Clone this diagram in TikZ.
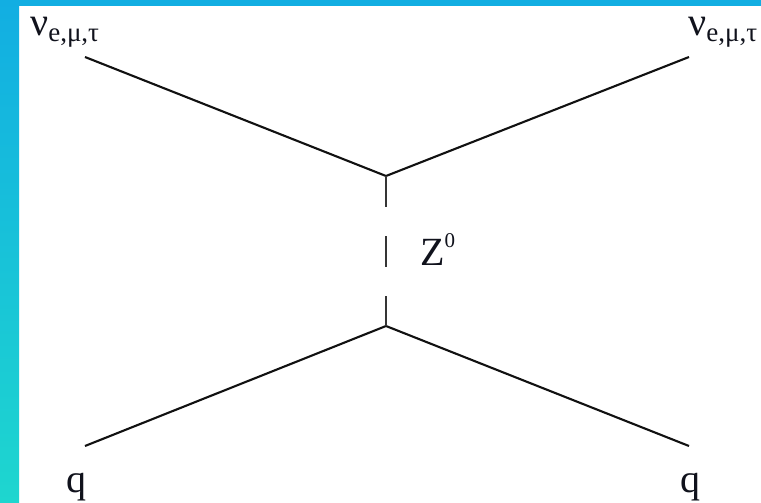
\documentclass[tikz,border=0pt]{standalone}
\usepackage{fontspec}
\setmainfont{Liberation Serif}
\newfontfamily\diagfont{Liberation Serif}
\definecolor{bordtop}{HTML}{12AEE2}
\definecolor{bordbot}{HTML}{1ED6CF}
\definecolor{inkc}{HTML}{111111}
\definecolor{textc}{HTML}{10121C}
\begin{document}
\begin{tikzpicture}[x=1pt,y=-1pt,
  fermion/.style={draw=inkc,line width=2.1pt},
  boson/.style={draw=inkc!85,line width=2.1pt,dash pattern=on 31pt off 29pt},
  lbl/.style={inner sep=0pt,anchor=base west,text=textc,font=\diagfont\fontsize{40}{48}\selectfont}]
\useasboundingbox (0,0) rectangle (761,503);
\fill[white] (0,0) rectangle (761,503);
\shade[top color=bordtop,bottom color=bordbot] (0,0) rectangle (19,503);
\fill[bordtop] (0,0) rectangle (761,6);
% vertices and ends
\coordinate (vt) at (386,176);
\coordinate (vb) at (386,326);
\coordinate (tl) at (85,57);
\coordinate (tr) at (689,57);
\coordinate (bl) at (85,446);
\coordinate (br) at (689,446);
\draw[fermion] (tl) -- (vt) -- (tr);
\draw[fermion] (bl) -- (vb) -- (br);
\draw[boson] (vt) -- (vb);
% labels
\node[lbl] (nul) at (30,36) {ν\raisebox{-6pt}{\fontsize{27}{32}\selectfont e,μ,τ}};
\node[lbl] (nur) at (688,36) {ν\raisebox{-6pt}{\fontsize{27}{32}\selectfont e,μ,τ}};
\node[lbl] (ql) at (66,492) {q};
\node[lbl] (qr) at (680,492) {q};
\node[lbl] (z) at (420,265) {Z\raisebox{18pt}{\fontsize{21}{24}\selectfont 0}};
\end{tikzpicture}
\end{document}
